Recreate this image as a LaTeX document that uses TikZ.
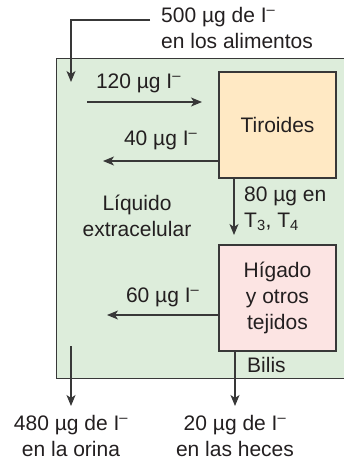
\documentclass[tikz,border=0pt]{standalone}
\usepackage{fontspec}
\setmainfont{Liberation Sans}
\usetikzlibrary{arrows.meta}
\usetikzlibrary{positioning}

\definecolor{ecfgreen}{HTML}{DDEDDB}
\definecolor{thyroid}{HTML}{FFE9C4}
\definecolor{liver}{HTML}{FCE4E3}
\definecolor{linegray}{HTML}{383838}
\definecolor{textgray}{HTML}{231F20}

\begin{document}
\begin{tikzpicture}[x=1pt, y=-1pt,
    every node/.style={font=\fontsize{21}{26}\selectfont, text=textgray, align=center, inner sep=0pt},
    flow/.style={draw=linegray, line width=1.3pt, -{Stealth[length=11pt, width=9pt, inset=3pt]}},
    organ/.style={draw=linegray, line width=1.2pt, minimum width=117pt, minimum height=106pt},
    lbl/.style={midway, anchor=base, yshift=14pt}]

        \useasboundingbox (0,0) rectangle (343,463);

        % Draw the compartments
        \node[draw=linegray, line width=1.4pt, fill=ecfgreen, minimum width=300pt, minimum height=320pt, anchor=north west] (ecf) at (56,58) {};
        \node[organ, fill=thyroid] (tir) at (277.5,125) {Tiroides};
        \node[organ, fill=liver] (hig) at (277.5,298) {Hígado\\y otros\\tejidos};

        % Free ends of the flows
        \coordinate (food) at (150,20);
        \coordinate (in) at (71,82);
        \coordinate (up1) at (87,102);
        \coordinate (up2) at (202,102);
        \coordinate (ret1) at (103,161);
        \coordinate (ret2) at (107,315);
        \coordinate (t34) at (234,235);
        \coordinate (uri1) at (71,346);
        \coordinate (uri2) at (71,406);
        \coordinate (fec) at (235,406);

        % Texts
        \node[anchor=west, align=left] (diet) at (161,28) {500 µg de I\textsuperscript{–}\\en los alimentos};
        \node (lec) at (137,216) {Líquido\\extracelular};
        \node[anchor=west, align=left] (hor) at (244,209) {80 µg en\\T\textsubscript{3}, T\textsubscript{4}};
        \node[anchor=base west] (bil) at (247,372) {Bilis};
        \node[below=9pt of uri2] (urine) {480 µg de I\textsuperscript{–}\\en la orina};
        \node[below=9pt of fec] (feces) {20 µg de I\textsuperscript{–}\\en las heces};

        % Draw the flows
        \draw[flow] (food) -| (in);
        \draw[flow] (up1) -- (up2) node[lbl, xshift=-6pt] {120 µg I\textsuperscript{–}};
        \draw[flow] (tir.west |- ret1) -- (ret1) node[lbl, yshift=2pt] {40 µg I\textsuperscript{–}};
        \draw[flow] (tir.south -| t34) -- (t34);
        \draw[flow] (hig.west |- ret2) -- (ret2) node[lbl, yshift=-1pt] {60 µg I\textsuperscript{–}};
        \draw[flow] (uri1) -- (uri2);
        \draw[flow] (hig.south -| fec) -- (fec);
      \end{tikzpicture}
\end{document}
